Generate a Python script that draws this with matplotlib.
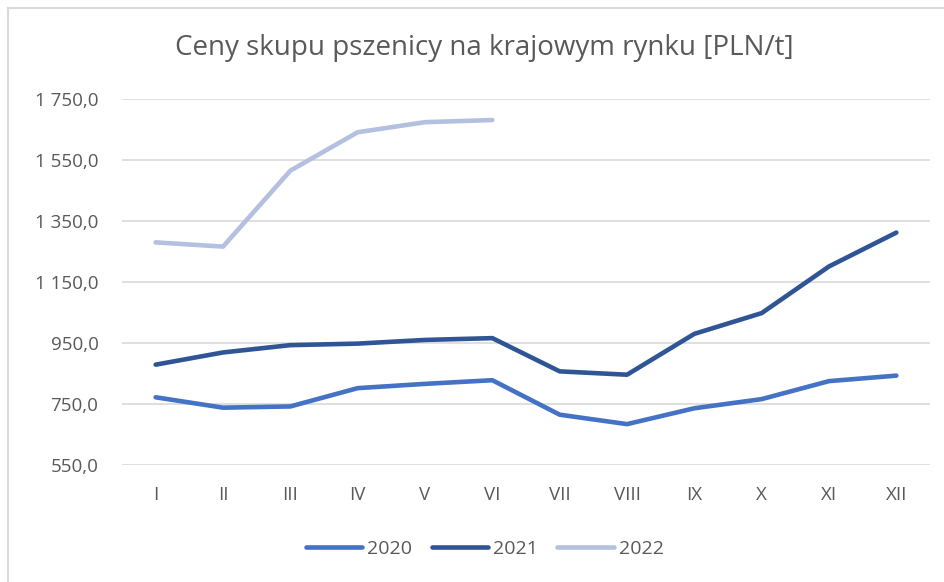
import matplotlib
matplotlib.use("Agg")
import matplotlib.pyplot as plt
from matplotlib.lines import Line2D

months = ["I", "II", "III", "IV", "V", "VI", "VII", "VIII", "IX", "X", "XI", "XII"]
p2020 = [772, 738, 742, 802, 816, 828, 715, 684, 736, 766, 825, 843]
p2021 = [879, 919, 943, 948, 960, 966, 857, 846, 980, 1048, 1201, 1312]
p2022 = [1280, 1266, 1515, 1641, 1674, 1681]
yticks = [550, 750, 950, 1150, 1350, 1550, 1750]

plt.rcParams["font.family"] = ["Open Sans", "DejaVu Sans"]
txt = "#595959"
W, H = 945, 582

fig = plt.figure(figsize=(W / 100, H / 100), dpi=100)
ax = fig.add_axes([122 / W, 1 - 465 / H, 808 / W, 366 / H])

x = list(range(len(months)))
ax.plot(x, p2020, color="#4472C4", lw=3.3, solid_capstyle="round", label="2020")
ax.plot(x, p2021, color="#2F5597", lw=3.3, solid_capstyle="round", label="2021")
ax.plot(x[:len(p2022)], p2022, color="#B4C0E0", lw=3.3, solid_capstyle="round", label="2022")

ax.set_xlim(-0.5, 11.5)
ax.set_ylim(550, 1750)
ax.set_yticks(yticks)
ax.set_yticklabels([f"{v:,.1f}".replace(",", " ").replace(".", ",") for v in yticks])
ax.set_xticks(x)
ax.set_xticklabels(months)
ax.grid(axis="y", color="#D9D9D9", lw=1.2)
ax.set_axisbelow(True)
for s in ax.spines.values():
    s.set_visible(False)
ax.tick_params(length=0, labelsize=13.5, colors=txt)
ax.tick_params(axis="x", pad=15)
ax.tick_params(axis="y", pad=17)

fig.text(0.513, 1 - 48 / H, "Ceny skupu pszenicy na krajowym rynku [PLN/t]",
         ha="center", va="center", fontsize=20, color=txt)
fig.legend(loc="center", bbox_to_anchor=(0.513, 1 - 549 / H), ncol=3, frameon=False,
           fontsize=14, labelcolor=txt, handlelength=2.9, handletextpad=0.25,
           columnspacing=1.0)

# chart border (left and top only visible in the crop)
fig.add_artist(Line2D([8 / W, 8 / W], [0, 1 - 8 / H], transform=fig.transFigure,
                      color="#D9D9D9", lw=1.5))
fig.add_artist(Line2D([8 / W, 1], [1 - 8 / H, 1 - 8 / H], transform=fig.transFigure,
                      color="#D9D9D9", lw=1.5))

fig.savefig("out.png", dpi=100)
